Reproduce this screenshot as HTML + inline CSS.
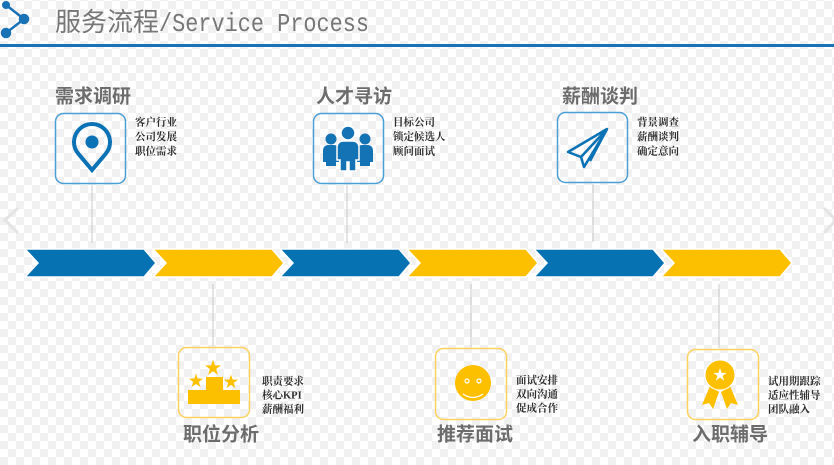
<!DOCTYPE html>
<html><head><meta charset="utf-8">
<style>
html,body{margin:0;padding:0;}
body{width:834px;height:465px;overflow:hidden;
background-color:#fff;
background-image:conic-gradient(#f1f1f1 25%,#ffffff 0 50%,#f1f1f1 0 75%,#ffffff 0);
background-size:16px 16px;background-position:0 1px;}
svg{position:absolute;left:0;top:0;}
.t{font-family:"Liberation Sans","Noto Sans CJK SC",sans-serif;font-weight:bold;font-size:19px;fill:#6c6c6c;}
.b{font-family:"Liberation Serif","Noto Serif CJK SC",serif;font-weight:bold;font-size:10.5px;fill:#2e2e2e;}
</style></head>
<body>
<svg width="834" height="465" viewBox="0 0 834 465" xmlns="http://www.w3.org/2000/svg">
<!-- header icon -->
<g stroke="#1a72b6" stroke-width="2.5" fill="#1a72b6">
<line x1="6" y1="5" x2="24" y2="19"/>
<line x1="24" y1="19" x2="6" y2="33"/>
<circle cx="6" cy="5" r="2.8"/>
<circle cx="24" cy="19" r="4"/>
<circle cx="6" cy="33" r="4"/>
</g>
<text x="55" y="31" font-family="'Liberation Sans','Noto Sans CJK SC',sans-serif" font-size="26" fill="#777">服务流程</text>
<text x="159" y="31" font-family="'Liberation Mono',monospace" font-size="26" fill="#777" textLength="210" lengthAdjust="spacingAndGlyphs">/Service Process</text>
<rect x="0" y="44" width="834" height="3" fill="#1a72b6"/>

<!-- faint side arrows -->
<polyline points="18,208 5,220 18,233" fill="none" stroke="#e4e4e4" stroke-width="3"/>
<polyline points="824,208 836,220 824,233" fill="none" stroke="#e4e4e4" stroke-width="3"/>

<!-- connectors -->
<g stroke="#c9c9c9" stroke-width="1">
<line x1="92" y1="185" x2="92" y2="243"/>
<line x1="347" y1="185" x2="347" y2="243"/>
<line x1="593" y1="184" x2="593" y2="242"/>
<line x1="213" y1="284" x2="213" y2="346"/>
<line x1="471" y1="284" x2="471" y2="347"/>
<line x1="719" y1="284" x2="719" y2="348"/>
</g>

<!-- chevrons -->
<g stroke="#fff" stroke-width="1.5">
<polygon points="25,249 144,249 156,263 144,277 25,277 38,263" fill="#0672b1"/>
<polygon points="153,249 272,249 284,263 272,277 153,277 166,263" fill="#fcc000"/>
<polygon points="280,249 399,249 411,263 399,277 280,277 293,263" fill="#0672b1"/>
<polygon points="407,249 526,249 538,263 526,277 407,277 420,263" fill="#fcc000"/>
<polygon points="534,249 653,249 665,263 653,277 534,277 547,263" fill="#0672b1"/>
<polygon points="661,249 780,249 792,263 780,277 661,277 674,263" fill="#fcc000"/>
</g>

<!-- top boxes -->
<g fill="none" stroke="#4a9fd6" stroke-width="1.5">
<rect x="55.5" y="113.5" width="70" height="70" rx="8"/>
<rect x="313.5" y="113.5" width="70" height="70" rx="8"/>
<rect x="557.5" y="112.5" width="70" height="70" rx="8"/>
</g>
<!-- bottom boxes -->
<g fill="none" stroke="#fdd25e" stroke-width="1.5">
<rect x="178.5" y="347.5" width="71" height="70" rx="8"/>
<rect x="435.5" y="348.5" width="71" height="71" rx="8"/>
<rect x="687.5" y="349.5" width="71" height="70" rx="8"/>
</g>

<!-- pin -->
<path d="M92,170 L78.2,153.6 A18,18 0 1 1 105.8,153.6 Z" fill="none" stroke="#0b72b5" stroke-width="4" stroke-linejoin="miter"/>
<circle cx="92" cy="142" r="6.5" fill="#0b72b5"/>

<!-- people -->
<g fill="#1473b5">
<circle cx="331" cy="139" r="5.5"/>
<circle cx="365" cy="139" r="5.5"/>
<path d="M323,150 a5,5 0 0 1 5,-5 h6 a5,5 0 0 1 5,5 v12 h-3 v4 h-10 v-4 h-3 z"/>
<path d="M357,150 a5,5 0 0 1 5,-5 h6 a5,5 0 0 1 5,5 v12 h-3 v4 h-10 v-4 h-3 z"/>
</g>
<g fill="#1473b5" stroke="#fff" stroke-width="1.5">
<circle cx="348" cy="133" r="7"/>
<path d="M337,147 a6,6 0 0 1 6,-6 h10 a6,6 0 0 1 6,6 v13 h-3 v11 h-7 v-9 h-2 v9 h-7 v-11 h-3 z"/>
</g>

<!-- paper plane -->
<g fill="none" stroke="#0b72b5" stroke-width="2.5" stroke-linejoin="round">
<polygon points="607,129 568,152 581,157 584,167"/>
<line x1="607" y1="129" x2="581" y2="157"/>
<line x1="607" y1="129" x2="590" y2="161"/>
</g>

<!-- podium -->
<g fill="#fcc000">
<rect x="188" y="390" width="52" height="14"/>
<rect x="206" y="377" width="17" height="13"/>
<polygon transform="translate(213,368) scale(8.5)" points="0,-1 0.2245,-0.309 0.951,-0.309 0.363,0.118 0.588,0.809 0,0.382 -0.588,0.809 -0.363,0.118 -0.951,-0.309 -0.2245,-0.309"/>
<polygon transform="translate(196,381) scale(7.5)" points="0,-1 0.2245,-0.309 0.951,-0.309 0.363,0.118 0.588,0.809 0,0.382 -0.588,0.809 -0.363,0.118 -0.951,-0.309 -0.2245,-0.309"/>
<polygon transform="translate(231,382) scale(7.5)" points="0,-1 0.2245,-0.309 0.951,-0.309 0.363,0.118 0.588,0.809 0,0.382 -0.588,0.809 -0.363,0.118 -0.951,-0.309 -0.2245,-0.309"/>
</g>

<!-- smiley -->
<circle cx="473" cy="383" r="18" fill="#fcc000"/>
<g fill="none" stroke="#fff" stroke-width="1.2">
<circle cx="467" cy="381" r="2"/>
<circle cx="479" cy="381" r="2"/>
<path d="M463,394 Q473,401 483,394"/>
</g>

<!-- medal -->
<g fill="#fcc000">
<polygon points="710,386 702,405 709,403 713,409 719,392"/>
<polygon points="730,386 738,405 731,403 727,409 721,392"/>
</g>
<circle cx="720" cy="375" r="15" fill="#fcc000" stroke="#fff" stroke-width="1"/>
<polygon transform="translate(720,375) scale(7)" fill="#fff" points="0,-1 0.2245,-0.309 0.951,-0.309 0.363,0.118 0.588,0.809 0,0.382 -0.588,0.809 -0.363,0.118 -0.951,-0.309 -0.2245,-0.309"/>

<!-- titles -->
<g class="t" dominant-baseline="central">
<text x="55" y="97">需求调研</text>
<text x="316" y="97">人才寻访</text>
<text x="562" y="97">薪酬谈判</text>
<text x="183" y="435">职位分析</text>
<text x="437" y="435">推荐面试</text>
<text x="692" y="435">入职辅导</text>
</g>

<!-- bullets -->
<g class="b" dominant-baseline="central">
<text x="135" y="123">客户行业</text>
<text x="135" y="137.5">公司发展</text>
<text x="135" y="152">职位需求</text>
<text x="393" y="123">目标公司</text>
<text x="393" y="137.5">锁定候选人</text>
<text x="393" y="152">顾问面试</text>
<text x="637" y="123">背景调查</text>
<text x="637" y="137.5">薪酬谈判</text>
<text x="637" y="152">确定意向</text>
<text x="262" y="382">职责要求</text>
<text x="262" y="396">核心KPI</text>
<text x="262" y="410">薪酬福利</text>
<text x="516" y="381">面试安排</text>
<text x="516" y="395">双向沟通</text>
<text x="516" y="409">促成合作</text>
<text x="768" y="382">试用期跟踪</text>
<text x="768" y="396">适应性辅导</text>
<text x="768" y="410">团队融入</text>
</g>
</svg>
</body></html>
